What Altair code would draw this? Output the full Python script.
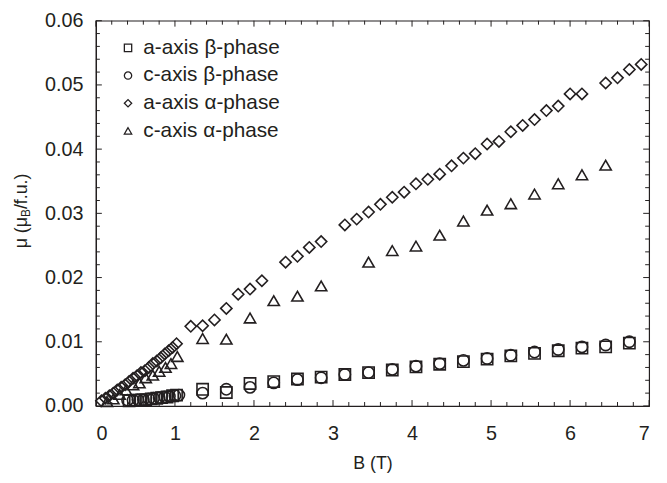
import altair as alt
import pandas as pd

FONT = "Liberation Sans"
INK = "#231f20"

series_names = ["a-axis β-phase", "c-axis β-phase", "a-axis α-phase", "c-axis α-phase"]
series_shapes = ["square", "circle", "diamond", "triangle-up"]

# a-axis beta-phase (squares)
a_beta_B = [0.42, 0.5, 0.57, 0.63, 0.7, 0.77, 0.83, 0.9, 0.97, 1.02,
            1.35, 1.65, 1.95, 2.25, 2.55, 2.85, 3.15, 3.45, 3.75, 4.05,
            4.35, 4.65, 4.95, 5.25, 5.55, 5.85, 6.15, 6.45, 6.75]
a_beta_mu = [0.0008, 0.0009, 0.0009, 0.0010, 0.0011, 0.0012, 0.0013, 0.0014, 0.0016, 0.0017,
             0.0026, 0.0021, 0.0035, 0.0038, 0.0042, 0.0045, 0.0049, 0.0052, 0.0056, 0.0061,
             0.0065, 0.0069, 0.0073, 0.0078, 0.0082, 0.0086, 0.0090, 0.0092, 0.0098]

# c-axis beta-phase (circles)
c_beta_B = [0.4, 0.47, 0.53, 0.6, 0.67, 0.73, 0.8, 0.87, 0.93, 1.0, 1.05,
            1.35, 1.65, 1.95, 2.25, 2.55, 2.85, 3.15, 3.45, 3.75, 4.05,
            4.35, 4.65, 4.95, 5.25, 5.55, 5.85, 6.15, 6.45, 6.75]
c_beta_mu = [0.0009, 0.0009, 0.0010, 0.0010, 0.0011, 0.0012, 0.0013, 0.0014, 0.0015, 0.0016, 0.0017,
             0.0020, 0.0026, 0.0029, 0.0036, 0.0041, 0.0044, 0.0049, 0.0052, 0.0057, 0.0062,
             0.0066, 0.0071, 0.0074, 0.0079, 0.0084, 0.0088, 0.0092, 0.0095, 0.0100]

# a-axis alpha-phase (diamonds)
a_alpha_B = [0.07, 0.12, 0.17, 0.22, 0.27, 0.32, 0.37, 0.42, 0.47, 0.52, 0.57, 0.62, 0.67,
             0.72, 0.77, 0.82, 0.87, 0.92, 0.97, 1.02,
             1.2, 1.35, 1.5, 1.65, 1.8, 1.95, 2.1, 2.4, 2.55, 2.7, 2.85,
             3.15, 3.3, 3.45, 3.6, 3.75, 3.9, 4.05, 4.2, 4.35, 4.5, 4.65, 4.8,
             4.95, 5.1, 5.25, 5.4, 5.55, 5.7, 5.85, 6.0, 6.15, 6.45, 6.6, 6.75, 6.9]
a_alpha_mu = [0.0008, 0.0012, 0.0016, 0.0020, 0.0025, 0.0029, 0.0033, 0.0038, 0.0043, 0.0047,
              0.0052, 0.0055, 0.0060, 0.0066, 0.0070, 0.0075, 0.0081, 0.0086, 0.0091, 0.0097,
              0.0124, 0.0125, 0.0134, 0.0152, 0.0174, 0.0182, 0.0195, 0.0224, 0.0233, 0.0247, 0.0256,
              0.0282, 0.0291, 0.0302, 0.0314, 0.0325, 0.0333, 0.0346, 0.0353, 0.0361, 0.0374, 0.0386,
              0.0393, 0.0408, 0.0412, 0.0427, 0.0437, 0.0446, 0.0460, 0.0467, 0.0486, 0.0486,
              0.0503, 0.0511, 0.0524, 0.0532]

# c-axis alpha-phase (triangles)
c_alpha_B = [0.14, 0.22, 0.3, 0.38, 0.47, 0.55, 0.63, 0.72, 0.8, 0.88, 0.95, 1.03,
             1.35, 1.65, 1.95, 2.25, 2.55, 2.85, 3.45, 3.75, 4.05, 4.35, 4.65,
             4.95, 5.25, 5.55, 5.85, 6.15, 6.45]
c_alpha_mu = [0.0007, 0.0011, 0.0018, 0.0025, 0.0033, 0.0036, 0.0044, 0.0048, 0.0054, 0.0060,
              0.0066, 0.0077,
              0.0105, 0.0104, 0.0137, 0.0164, 0.0171, 0.0187, 0.0224, 0.0242, 0.0249, 0.0266,
              0.0288, 0.0305, 0.0315, 0.0330, 0.0346, 0.0360, 0.0375]

x_major = [0, 1, 2, 3, 4, 5, 6, 7]
x_minor = [i / 5 for i in range(36) if i % 5]
y_major = [0.0, 0.01, 0.02, 0.03, 0.04, 0.05, 0.06]
y_minor = [round(i * 0.002, 4) for i in range(31) if i % 5]

W, H = 560, 390

rows = []
for name, bs, ms in zip(series_names,
                        [a_beta_B, c_beta_B, a_alpha_B, c_alpha_B],
                        [a_beta_mu, c_beta_mu, a_alpha_mu, c_alpha_mu]):
    for b, m in zip(bs, ms):
        rows.append({"B": b, "mu": m, "series": name})
df = pd.DataFrame(rows)

xs = alt.Scale(domain=[0, 7], nice=False, zero=False)
ys = alt.Scale(domain=[0, 0.06], nice=False, zero=False)
xaxis = alt.Axis(values=x_major, format="d", ticks=False, tickSize=0, grid=False,
                 labelFont=FONT, labelFontSize=20, labelColor=INK, labelPadding=18,
                 domainColor=INK, domainWidth=1.2,
                 title="B (T)", titleFont=FONT, titleFontSize=18, titleFontWeight="normal",
                 titleColor=INK, titlePadding=11)
yaxis = alt.Axis(values=y_major, format=".2f", ticks=False, tickSize=0, grid=False,
                 labelFont=FONT, labelFontSize=20, labelColor=INK, labelPadding=13,
                 domainColor=INK, domainWidth=1.2, title=None)

points = alt.Chart(df).mark_point(filled=False, strokeWidth=1.6, color=INK, opacity=1, size=130).encode(
    x=alt.X("B:Q", scale=xs, axis=xaxis),
    y=alt.Y("mu:Q", scale=ys, axis=yaxis),
    shape=alt.Shape("series:N", scale=alt.Scale(domain=series_names, range=series_shapes),
                    legend=alt.Legend(orient="none", legendX=22, legendY=17, title=None,
                                      labelFont=FONT, labelFontSize=21, labelColor=INK,
                                      symbolSize=55, symbolStrokeWidth=1.3,
                                      symbolStrokeColor=INK, symbolFillColor="white",
                                      rowPadding=6, labelOffset=5, padding=0)),
)

def xticks(vals, length):
    d = pd.DataFrame({"B": vals})
    bottom = alt.Chart(d).mark_rule(color=INK, strokeWidth=1).encode(
        x=alt.X("B:Q", scale=xs, axis=xaxis), y=alt.value(H), y2=alt.value(H - length))
    top = alt.Chart(d).mark_rule(color=INK, strokeWidth=1).encode(
        x=alt.X("B:Q", scale=xs, axis=xaxis), y=alt.value(0), y2=alt.value(length))
    return [bottom, top]

def yticks(vals, length):
    d = pd.DataFrame({"mu": vals})
    left = alt.Chart(d).mark_rule(color=INK, strokeWidth=1).encode(
        y=alt.Y("mu:Q", scale=ys, axis=yaxis), x=alt.value(0), x2=alt.value(length))
    right = alt.Chart(d).mark_rule(color=INK, strokeWidth=1).encode(
        y=alt.Y("mu:Q", scale=ys, axis=yaxis), x=alt.value(W), x2=alt.value(W - length))
    return [left, right]

tick_layers = xticks(x_major, 6) + xticks(x_minor, 4) + yticks(y_major, 6) + yticks(y_minor, 4)

def title_piece(text, x, y, size):
    return alt.Chart(pd.DataFrame({"t": [text]})).mark_text(
        angle=270, align="left", baseline="alphabetic", font=FONT, fontSize=size, color=INK
    ).encode(x=alt.value(x), y=alt.value(y), text="t:N")

y0 = 230.4
ytitle = [
    title_piece("μ (μ", -70, y0, 18),
    title_piece("B", -66.5, y0 - 31.7, 12),
    title_piece("/f.u.)", -70, y0 - 31.7 - 8.0, 18),
]

chart = alt.layer(*tick_layers, points, *ytitle).properties(
    width=W, height=H, autosize="none",
    padding={"left": 89, "top": 10, "right": 10, "bottom": 67},
).configure_view(stroke=INK, strokeWidth=1.2)

chart.save("out.html", embed_options={"renderer": "svg", "actions": False})
